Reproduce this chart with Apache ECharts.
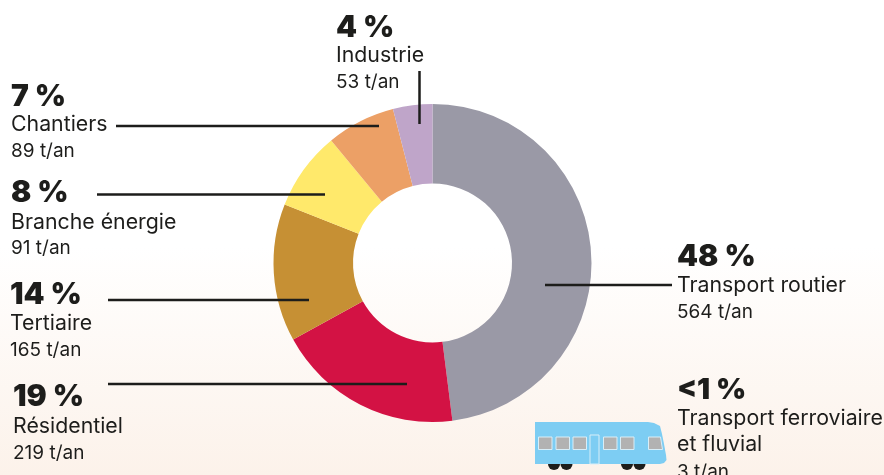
<!DOCTYPE html>
<html lang="fr">
<head>
<meta charset="utf-8">
<title>Emissions par secteur</title>
<script src="https://cdn.jsdelivr.net/npm/echarts@6/dist/echarts.min.js"></script>
<style>
    html, body { margin: 0; padding: 0; }
    #chart {
        width: 884px;
        height: 475px;
        overflow: hidden;
        background: linear-gradient(180deg, #ffffff 0%, #ffffff 52%, #fcf2ea 100%);
    }
</style>
</head>
<body>
<div id="chart"></div>
<script>
// slices follow the rounded percentages, the rail share (<1 %) has no slice of its own
const sectors = ['Transport routier', 'Résidentiel', 'Tertiaire', 'Branche énergie', 'Chantiers', 'Industrie'];
const percents = [48, 19, 14, 8, 7, 4];
const tonnes = ['564 t/an', '219 t/an', '165 t/an', '91 t/an', '89 t/an', '53 t/an'];
const colors = ['#9a99a6', '#d31244', '#c69034', '#ffe96b', '#eca066', '#bfa5c9'];

const railPercent = '<1 %';
const railName = ['Transport ferroviaire', 'et fluvial'];
const railTonnes = '3 t/an';

// left edge and the y of the three text rows for each sector
const labelPos = [
    [677, 257, 286, 312],
    [13, 397, 427, 453],
    [10, 295, 324, 350],
    [11, 193, 223, 248],
    [11, 97, 125, 151],
    [336, 28, 56, 82]
];
// leader lines x1, y1, x2, y2
const leaders = [
    [545, 285, 672, 285],
    [108, 384, 407, 384],
    [108, 300, 309, 300],
    [97, 194.5, 325, 194.5],
    [116, 126, 379, 126],
    [419.5, 71, 419.5, 124]
];

const INK = '#1d1d1b';
const FONT = 'Inter, "Noto Sans", sans-serif';

function text(x, y, str, size, weight) {
    return {
        type: 'text',
        x: x,
        y: y,
        z: 10,
        style: {
            text: str,
            fill: INK,
            font: weight + ' ' + size + 'px ' + FONT,
            textVerticalAlign: 'middle'
        }
    };
}

const graphic = [];

sectors.forEach(function (name, i) {
    const p = labelPos[i];
    graphic.push(text(p[0], p[1], percents[i] + ' %', 30, 900));
    graphic.push(text(p[0], p[2], name, 21.3, 400));
    graphic.push(text(p[0], p[3], tonnes[i], 19, 400));
    const l = leaders[i];
    graphic.push({
        type: 'line',
        z: 9,
        shape: { x1: l[0], y1: l[1], x2: l[2], y2: l[3] },
        style: { stroke: INK, lineWidth: 2.5 }
    });
});

graphic.push(text(677, 390, railPercent, 29, 900));
graphic.push(text(677, 419, railName[0], 21.3, 400));
graphic.push(text(677, 445, railName[1], 21.3, 400));
graphic.push(text(677, 472, railTonnes, 19, 400));

// train
[554, 566.5, 627, 639.5].forEach(function (cx) {
    graphic.push({
        type: 'circle',
        z: 5,
        shape: { cx: cx, cy: 464, r: 6 },
        style: { fill: '#1d1d1b' }
    });
});
graphic.push({
    type: 'polygon',
    z: 6,
    shape: {
        points: [[535, 422], [648, 422], [654, 423], [660, 426], [662, 434], [664, 444], [666, 455],
            [666.5, 460], [664, 463], [660, 464], [535, 464]]
    },
    style: { fill: '#7dcdf3' }
});
[[538.5, 13.5], [556, 13.5], [573, 13.5], [603.5, 13.5], [620.5, 13.5]].forEach(function (w) {
    graphic.push({
        type: 'rect',
        z: 7,
        shape: { x: w[0], y: 437, width: w[1], height: 12.5 },
        style: { fill: '#b2b2b2', stroke: '#d8eef8', lineWidth: 1 }
    });
});
graphic.push({
    type: 'polygon',
    z: 7,
    shape: { points: [[648.5, 437], [660.5, 437], [662.5, 449.5], [648.5, 449.5]] },
    style: { fill: '#b2b2b2', stroke: '#d8eef8', lineWidth: 1 }
});
graphic.push({
    type: 'rect',
    z: 7,
    shape: { x: 590, y: 435, width: 9, height: 29 },
    style: { fill: '#7dcdf3', stroke: '#d8eef8', lineWidth: 1 }
});

const chart = echarts.init(document.getElementById('chart'), null, { renderer: 'canvas' });

chart.setOption({
    animation: false,
    series: [{
        type: 'pie',
        center: [432.5, 263],
        radius: [79.5, 159],
        startAngle: 90,
        clockwise: true,
        silent: true,
        label: { show: false },
        labelLine: { show: false },
        data: sectors.map(function (name, i) {
            return { name: name, value: percents[i], itemStyle: { color: colors[i] } };
        })
    }],
    graphic: graphic
});
</script>
</body>
</html>
